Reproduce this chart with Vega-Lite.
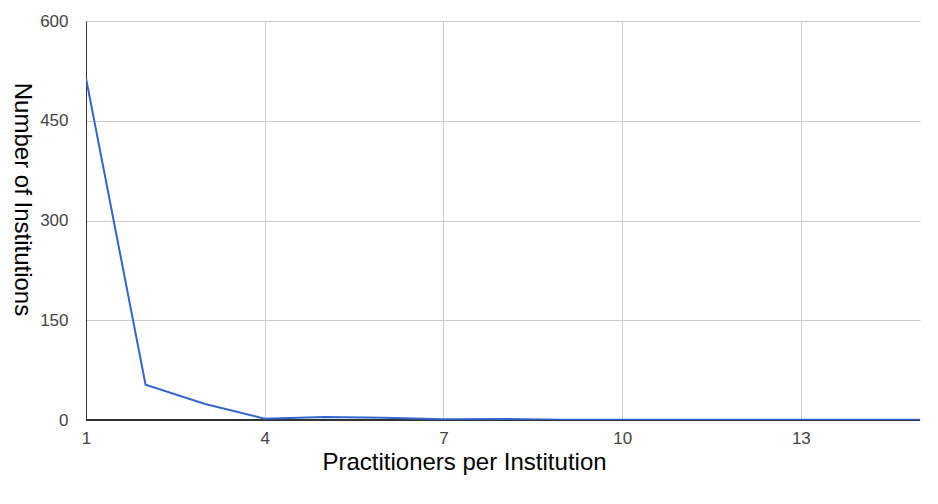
{
  "$schema": "https://vega.github.io/schema/vega-lite/v6.json",
  "width": 834,
  "height": 399,
  "autosize": {"type": "none"},
  "padding": {"left": 86, "top": 21, "right": 18, "bottom": 84},
  "background": "white",
  "config": {"view": {"stroke": null}, "font": "Liberation Sans"},
  "data": {"values": [
    {"practitioners": 1, "institutions": 514},
    {"practitioners": 2, "institutions": 53},
    {"practitioners": 3, "institutions": 24},
    {"practitioners": 4, "institutions": 2},
    {"practitioners": 5, "institutions": 4.5},
    {"practitioners": 6, "institutions": 3.5},
    {"practitioners": 7, "institutions": 1},
    {"practitioners": 8, "institutions": 1.5},
    {"practitioners": 9, "institutions": 0.5},
    {"practitioners": 10, "institutions": 0.5},
    {"practitioners": 11, "institutions": 0.5},
    {"practitioners": 12, "institutions": 0.5},
    {"practitioners": 13, "institutions": 0.5},
    {"practitioners": 14, "institutions": 0.5},
    {"practitioners": 15, "institutions": 0.5}
  ]},
  "layer": [
    {
      "mark": {"type": "rule", "color": "#333333", "strokeWidth": 1},
      "encoding": {"y": {"datum": 0}}
    },
    {
      "mark": {"type": "line", "color": "#3366CC", "strokeWidth": 2, "clip": true},
      "encoding": {
        "x": {
          "field": "practitioners", "type": "quantitative",
          "scale": {"domain": [1, 15], "nice": false, "zero": false},
          "axis": {
            "title": "Practitioners per Institution",
            "titleFontSize": 24, "titleFontWeight": "normal", "titleColor": "#000000",
            "titleX": 378, "titleY": 49, "titleBaseline": "alphabetic", "titleAlign": "center", "titleAnchor": null,
            "values": [1, 4, 7, 10, 13],
            "labelFontSize": 17, "labelColor": "#444444", "labelPadding": 10, "labelFlush": false,
            "ticks": false, "domain": false,
            "grid": true, "gridColor": "#CCCCCC"
          }
        },
        "y": {
          "field": "institutions", "type": "quantitative",
          "scale": {"domain": [0, 600], "nice": false},
          "axis": {
            "title": "Number of Institutions",
            "titleFontSize": 24, "titleFontWeight": "normal", "titleColor": "#000000",
            "titleX": -72, "titleY": 178, "titleBaseline": "alphabetic", "titleAlign": "center", "titleAngle": 90, "titleAnchor": null,
            "values": [0, 150, 300, 450, 600],
            "labelFontSize": 17, "labelColor": "#444444", "labelPadding": 18,
            "ticks": false, "domain": true, "domainColor": "#333333",
            "grid": true, "gridColor": "#CCCCCC"
          }
        }
      }
    }
  ]
}
